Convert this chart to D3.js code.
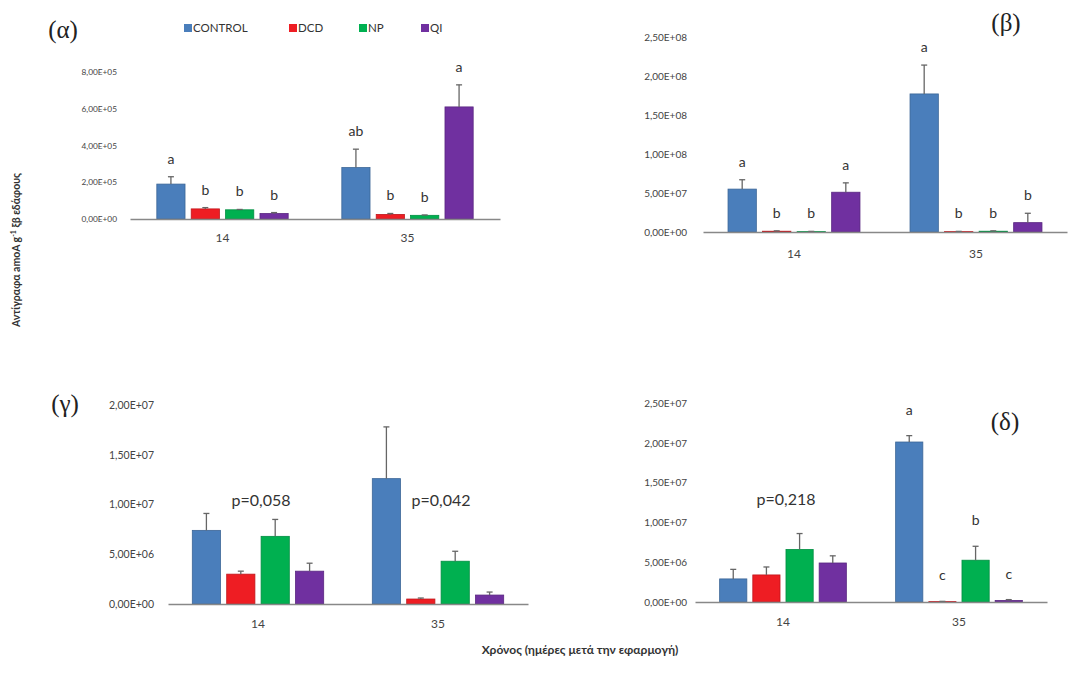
<!DOCTYPE html>
<html><head><meta charset="utf-8">
<script src="https://cdn.jsdelivr.net/npm/d3@7"></script>
<style>body{margin:0;background:#fff}svg{display:block}</style>
</head><body>
<svg id="c" width="1092" height="684"></svg>
<script>
// ---- data ----
const days = ["14", "35"];
const series = ["CONTROL", "DCD", "NP", "QI"];
const colors = ["#4a7ebb", "#ee1d23", "#00b050", "#7030a0"];

// (α)
const alphaVals = [[1.9e5, 0.55e5, 0.5e5, 0.3e5], [2.8e5, 0.25e5, 0.2e5, 6.1e5]];
const alphaErr  = [[2.3e5, 0.62e5, 0.52e5, 0.35e5], [3.8e5, 0.3e5, 0.22e5, 7.3e5]];
const alphaLetters = [["a", "b", "b", "b"], ["ab", "b", "b", "a"]];
const alphaTicks = [0, 2e5, 4e5, 6e5, 8e5];
const alphaTickLabels = ["0,00E+00", "2,00E+05", "4,00E+05", "6,00E+05", "8,00E+05"];

// (β)
const betaVals = [[5.5e7, 0.1e7, 0.05e7, 5.1e7], [17.7e7, 0.05e7, 0.1e7, 1.2e7]];
const betaErr  = [[6.7e7, 0.15e7, 0.08e7, 6.3e7], [21.4e7, 0.08e7, 0.15e7, 2.4e7]];
const betaLetters = [["a", "b", "b", "a"], ["a", "b", "b", "b"]];
const betaTicks = [0, 5e7, 1e8, 1.5e8, 2e8, 2.5e8];
const betaTickLabels = ["0,00E+00", "5,00E+07", "1,00E+08", "1,50E+08", "2,00E+08", "2,50E+08"];

// (γ)
const gammaVals = [[7.4e6, 3.0e6, 6.8e6, 3.3e6], [12.6e6, 0.5e6, 4.3e6, 0.9e6]];
const gammaErr  = [[9.1e6, 3.3e6, 8.5e6, 4.1e6], [17.8e6, 0.6e6, 5.3e6, 1.2e6]];
const gammaP = ["p=0,058", "p=0,042"];
const gammaTicks = [0, 5e6, 1e7, 1.5e7, 2e7];
const gammaTickLabels = ["0,00E+00", "5,00E+06", "1,00E+07", "1,50E+07", "2,00E+07"];

// (δ)
const deltaVals = [[2.9e6, 3.4e6, 6.6e6, 4.9e6], [20.1e6, 0.05e6, 5.25e6, 0.2e6]];
const deltaErr  = [[4.1e6, 4.4e6, 8.6e6, 5.8e6], [20.9e6, 0.08e6, 7.0e6, 0.3e6]];
const deltaLetters = [["", "", "", ""], ["a", "c", "b", "c"]];
const deltaP = ["p=0,218", ""];
const deltaTicks = [0, 5e6, 1e7, 1.5e7, 2e7, 2.5e7];
const deltaTickLabels = ["0,00E+00", "5,00E+06", "1,00E+07", "1,50E+07", "2,00E+07", "2,50E+07"];

const pValueAt = { gamma: 1.05e7, delta: 1.3e7 };

// ---- drawing ----
const svg = d3.select("#c");
const FONT = "Lato, 'Open Sans', sans-serif";

function panel(cfg) {
  const g = svg.append("g");
  const y = d3.scaleLinear().domain([0, cfg.max]).range([cfg.y0, cfg.y1]);
  const x0 = d3.scaleBand().domain(days).range([cfg.x0, cfg.x1]);
  const gw = x0.bandwidth() * cfg.groupFrac;
  const x1 = d3.scaleBand().domain(series)
    .range([(x0.bandwidth() - gw) / 2, (x0.bandwidth() + gw) / 2]).paddingInner(0.18);

  const ya = d3.axisLeft(y).tickValues(cfg.ticks).tickSize(0)
    .tickFormat((d, i) => cfg.tickLabels[i]);
  const yg = g.append("g").attr("transform", `translate(${cfg.labelX},0)`).call(ya);
  yg.select(".domain").remove();
  yg.selectAll("text").attr("font-family", FONT).attr("font-size", cfg.tickSize)
    .attr("fill", "#444").attr("dx", 0);

  days.forEach((day, di) => {
    const gg = g.append("g").attr("transform", `translate(${x0(day)},0)`);
    series.forEach((s, si) => {
      const v = cfg.vals[di][si], e = cfg.err[di][si];
      const bx = x1(s), bw = x1.bandwidth();
      gg.append("rect").attr("x", bx).attr("width", bw)
        .attr("y", y(v)).attr("height", y(0) - y(v))
        .attr("fill", colors[si])
        .attr("stroke", d3.color(colors[si]).darker(0.6)).attr("stroke-width", 0.8);
      if (e > v) {
        const cx = bx + bw / 2;
        gg.append("line").attr("x1", cx).attr("x2", cx).attr("y1", y(v)).attr("y2", y(e))
          .attr("stroke", "#666").attr("stroke-width", 1.3);
        gg.append("line").attr("x1", cx - 3).attr("x2", cx + 3).attr("y1", y(e)).attr("y2", y(e))
          .attr("stroke", "#666").attr("stroke-width", 1.3);
      }
      if (cfg.letters && cfg.letters[di][si]) {
        gg.append("text").attr("x", bx + bw / 2).attr("y", y(e) - cfg.letterOff)
          .attr("text-anchor", "middle").attr("font-family", FONT)
          .attr("font-size", 14).attr("fill", "#333").text(cfg.letters[di][si]);
      }
    });
    if (cfg.p && cfg.p[di]) {
      g.append("text").attr("x", x0(day) + x0.bandwidth() / 2 + 3).attr("y", y(cfg.pAt) + 6)
        .attr("text-anchor", "middle").attr("font-family", FONT)
        .attr("font-size", 16).attr("fill", "#333").text(cfg.p[di]);
    }
  });

  const xa = d3.axisBottom(x0).tickSize(0).tickPadding(cfg.catPad);
  const xg = g.append("g").attr("transform", `translate(0,${cfg.y0})`).call(xa);
  xg.select(".domain").attr("stroke", "#888").attr("stroke-width", 1.5);
  xg.selectAll("text").attr("font-family", FONT).attr("font-size", 12).attr("fill", "#444");

  svg.append("text").attr("x", cfg.lx).attr("y", cfg.ly).attr("text-anchor", "middle")
    .attr("font-family", "'Liberation Serif', 'DejaVu Serif', serif")
    .attr("font-size", 25).attr("fill", "#222").text(cfg.label);
}

panel({ vals: alphaVals, err: alphaErr, letters: alphaLetters, ticks: alphaTicks, tickLabels: alphaTickLabels,
  max: 8e5, y0: 219, y1: 72, x0: 130, x1: 500, groupFrac: 0.71, labelX: 120, tickSize: 8.3,
  letterOff: 13, catPad: 14, label: "(α)", lx: 63, ly: 38 });
panel({ vals: betaVals, err: betaErr, letters: betaLetters, ticks: betaTicks, tickLabels: betaTickLabels,
  max: 2.5e8, y0: 232, y1: 37, x0: 703, x1: 1067, groupFrac: 0.725, labelX: 690, tickSize: 10,
  letterOff: 13, catPad: 17, label: "(β)", lx: 1006, ly: 31 });
panel({ vals: gammaVals, err: gammaErr, p: gammaP, pAt: pValueAt.gamma, ticks: gammaTicks, tickLabels: gammaTickLabels,
  max: 2e7, y0: 604, y1: 405, x0: 168, x1: 528, groupFrac: 0.73, labelX: 157, tickSize: 10.5,
  letterOff: 13, catPad: 15, label: "(γ)", lx: 65, ly: 412 });
panel({ vals: deltaVals, err: deltaErr, letters: deltaLetters, p: deltaP, pAt: pValueAt.delta, ticks: deltaTicks, tickLabels: deltaTickLabels,
  max: 2.5e7, y0: 602, y1: 403, x0: 695, x1: 1047, groupFrac: 0.72, labelX: 690, tickSize: 10,
  letterOff: 21, catPad: 15, label: "(δ)", lx: 1005, ly: 430 });

const leg = svg.append("g").attr("font-family", FONT).attr("font-size", 11.5).attr("fill", "#333");
const legX = [184, 289, 359, 421];
series.forEach((s, i) => {
  leg.append("rect").attr("x", legX[i]).attr("y", 24).attr("width", 8).attr("height", 8).attr("fill", colors[i]);
  leg.append("text").attr("x", legX[i] + 9).attr("y", 32).text(s);
});

svg.append("text").attr("transform", "translate(20,250) rotate(-90)").attr("text-anchor", "middle")
  .attr("font-family", FONT).attr("font-weight", "bold").attr("font-size", 10.5).attr("fill", "#333")
  .html('Αντίγραφα amoA g<tspan baseline-shift="super" font-size="7">-1</tspan> ξβ εδάφους');
svg.append("text").attr("x", 580).attr("y", 654).attr("text-anchor", "middle")
  .attr("font-family", FONT).attr("font-weight", "bold").attr("font-size", 12).attr("fill", "#333")
  .text("Χρόνος (ημέρες μετά την εφαρμογή)");
</script>
</body></html>
